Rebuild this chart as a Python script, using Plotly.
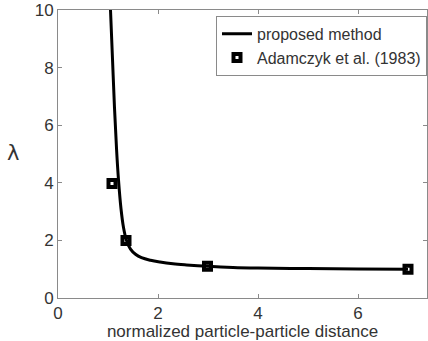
import plotly.graph_objects as go

# proposed method curve
curve_x = [1.05, 1.09, 1.13, 1.17, 1.21, 1.26, 1.31, 1.37, 1.45, 1.55, 1.67, 1.85, 2.04, 2.3, 2.57, 3.0, 3.5, 4.0, 5.0, 6.0, 7.0]
curve_y = [10.0, 8.3, 6.6, 5.2, 4.1, 3.1, 2.45, 2.0, 1.7, 1.52, 1.4, 1.31, 1.25, 1.19, 1.15, 1.1, 1.06, 1.04, 1.02, 1.01, 1.0]

# Adamczyk et al. (1983)
ref_x = [1.08, 1.36, 2.99, 7.0]
ref_y = [3.98, 2.0, 1.1, 1.0]

x_ticks = [0, 2, 4, 6]
y_ticks = [0, 2, 4, 6, 8, 10]

FONT = "Liberation Sans, Arial, sans-serif"
TXT = "#333333"
AX = "#8a8a8a"

fig = go.Figure()
fig.add_trace(go.Scatter(x=curve_x, y=curve_y, mode="lines", name="proposed method",
                         line=dict(color="black", width=3, shape="spline", smoothing=1.0)))
fig.add_trace(go.Scatter(x=ref_x, y=ref_y, mode="markers", name="Adamczyk et al. (1983)",
                         marker=dict(symbol="square-open", size=7, color="black",
                                     line=dict(color="black", width=4))))

fig.update_layout(
    width=428, height=341,
    margin=dict(l=58, r=1, t=10, b=43, autoexpand=False),
    paper_bgcolor="white", plot_bgcolor="white",
    font=dict(family=FONT, size=16, color=TXT),
    showlegend=True,
    legend=dict(x=1, xanchor="right", y=0.98, yanchor="top",
                bgcolor="white", bordercolor=AX, borderwidth=1,
                font=dict(family=FONT, size=16, color=TXT),
                tracegroupgap=0, itemwidth=30),
    xaxis=dict(range=[0, 7.38], tickvals=x_ticks, ticks="inside", ticklen=4,
               tickcolor=AX, showline=True, linecolor=AX, linewidth=1, mirror="ticks",
               showgrid=False, zeroline=False, automargin=False,
               tickfont=dict(size=17, color=TXT),
               title=dict(text="normalized particle-particle distance", standoff=0,
                          font=dict(size=17, color=TXT))),
    yaxis=dict(range=[0, 10], tickvals=y_ticks, ticks="inside", ticklen=4,
               tickcolor=AX, showline=True, linecolor=AX, linewidth=1, mirror="ticks",
               showgrid=False, zeroline=False, automargin=False,
               ticklabeloverflow="allow",
               tickfont=dict(size=17, color=TXT)),
    annotations=[dict(text="λ", xref="paper", yref="paper", x=-0.122, y=0.505,
                      xanchor="center", yanchor="middle",
                      showarrow=False, font=dict(size=21, color=TXT, family="DejaVu Sans"))],
)

fig.write_html("out.html", config={"displayModeBar": False},
               post_script="document.body.style.margin='0';document.body.style.overflow='hidden';")
